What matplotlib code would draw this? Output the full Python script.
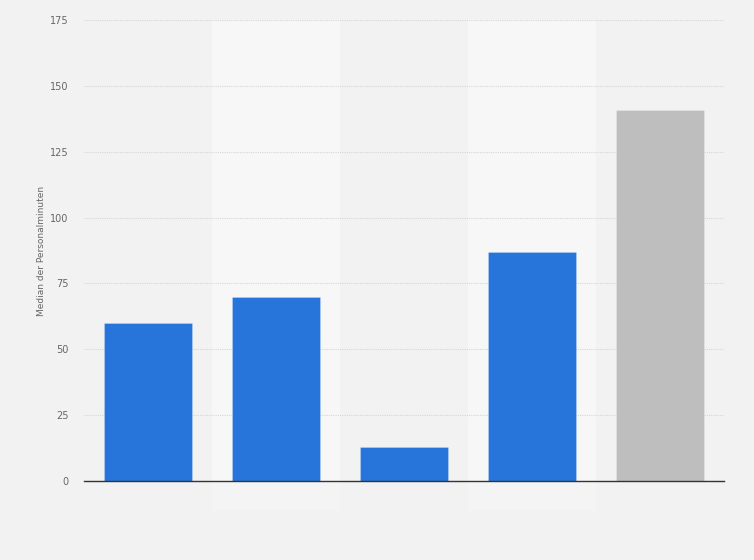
import matplotlib
matplotlib.use("Agg")
from matplotlib import pyplot as plt

values = [60, 70, 13, 87, 141]
colors = ["#2775da", "#2775da", "#2775da", "#2775da", "#bebebe"]
tick_labels = ["", "", "", "", ""]
y_ticks = [0, 25, 50, 75, 100, 125, 150, 175]
y_label = "Median der Personalminuten"

fig = plt.figure(figsize=(7.54, 5.6), dpi=100)
fig.patch.set_facecolor("#f2f2f2")
ax = fig.add_axes([84 / 754, 79 / 560, 640 / 754, 461 / 560])
ax.set_facecolor("#f2f2f2")

x = list(range(len(values)))

# lighter bands behind every second category
for i in x:
  if i % 2 == 1:
    ax.axvspan(i - 0.5, i + 0.5, ymin=0, ymax=1, color="#f7f7f7",
               zorder=0, lw=0)
    ax.axvspan(i - 0.5, i + 0.5, ymin=-0.065, ymax=0, color="#f4f4f4",
               zorder=0, clip_on=False, lw=0)

ax.bar(x, values, width=0.69, color=colors, zorder=3, edgecolor="#ffffff40", linewidth=0.6)

ax.set_xlim(-0.5, len(values) - 0.5)
ax.set_ylim(0, 175)
ax.set_yticks(y_ticks)
ax.set_xticks(x)
ax.set_xticklabels(tick_labels)
ax.tick_params(axis="both", length=0, labelsize=7, labelcolor="#666666")
ax.tick_params(axis="y", pad=11)
ax.grid(axis="y", color="#d6d6d6", linestyle=(0, (1, 1)), linewidth=0.8, zorder=1)
ax.set_axisbelow(True)

for s in ["top", "right", "left"]:
  ax.spines[s].set_visible(False)
ax.spines["bottom"].set_color("#333333")
ax.spines["bottom"].set_linewidth(1.0)
ax.spines["bottom"].set_zorder(4)

ax.set_ylabel(y_label, fontsize=6.5, color="#666666", labelpad=3)

fig.savefig("out.png", dpi=100, facecolor=fig.get_facecolor())
